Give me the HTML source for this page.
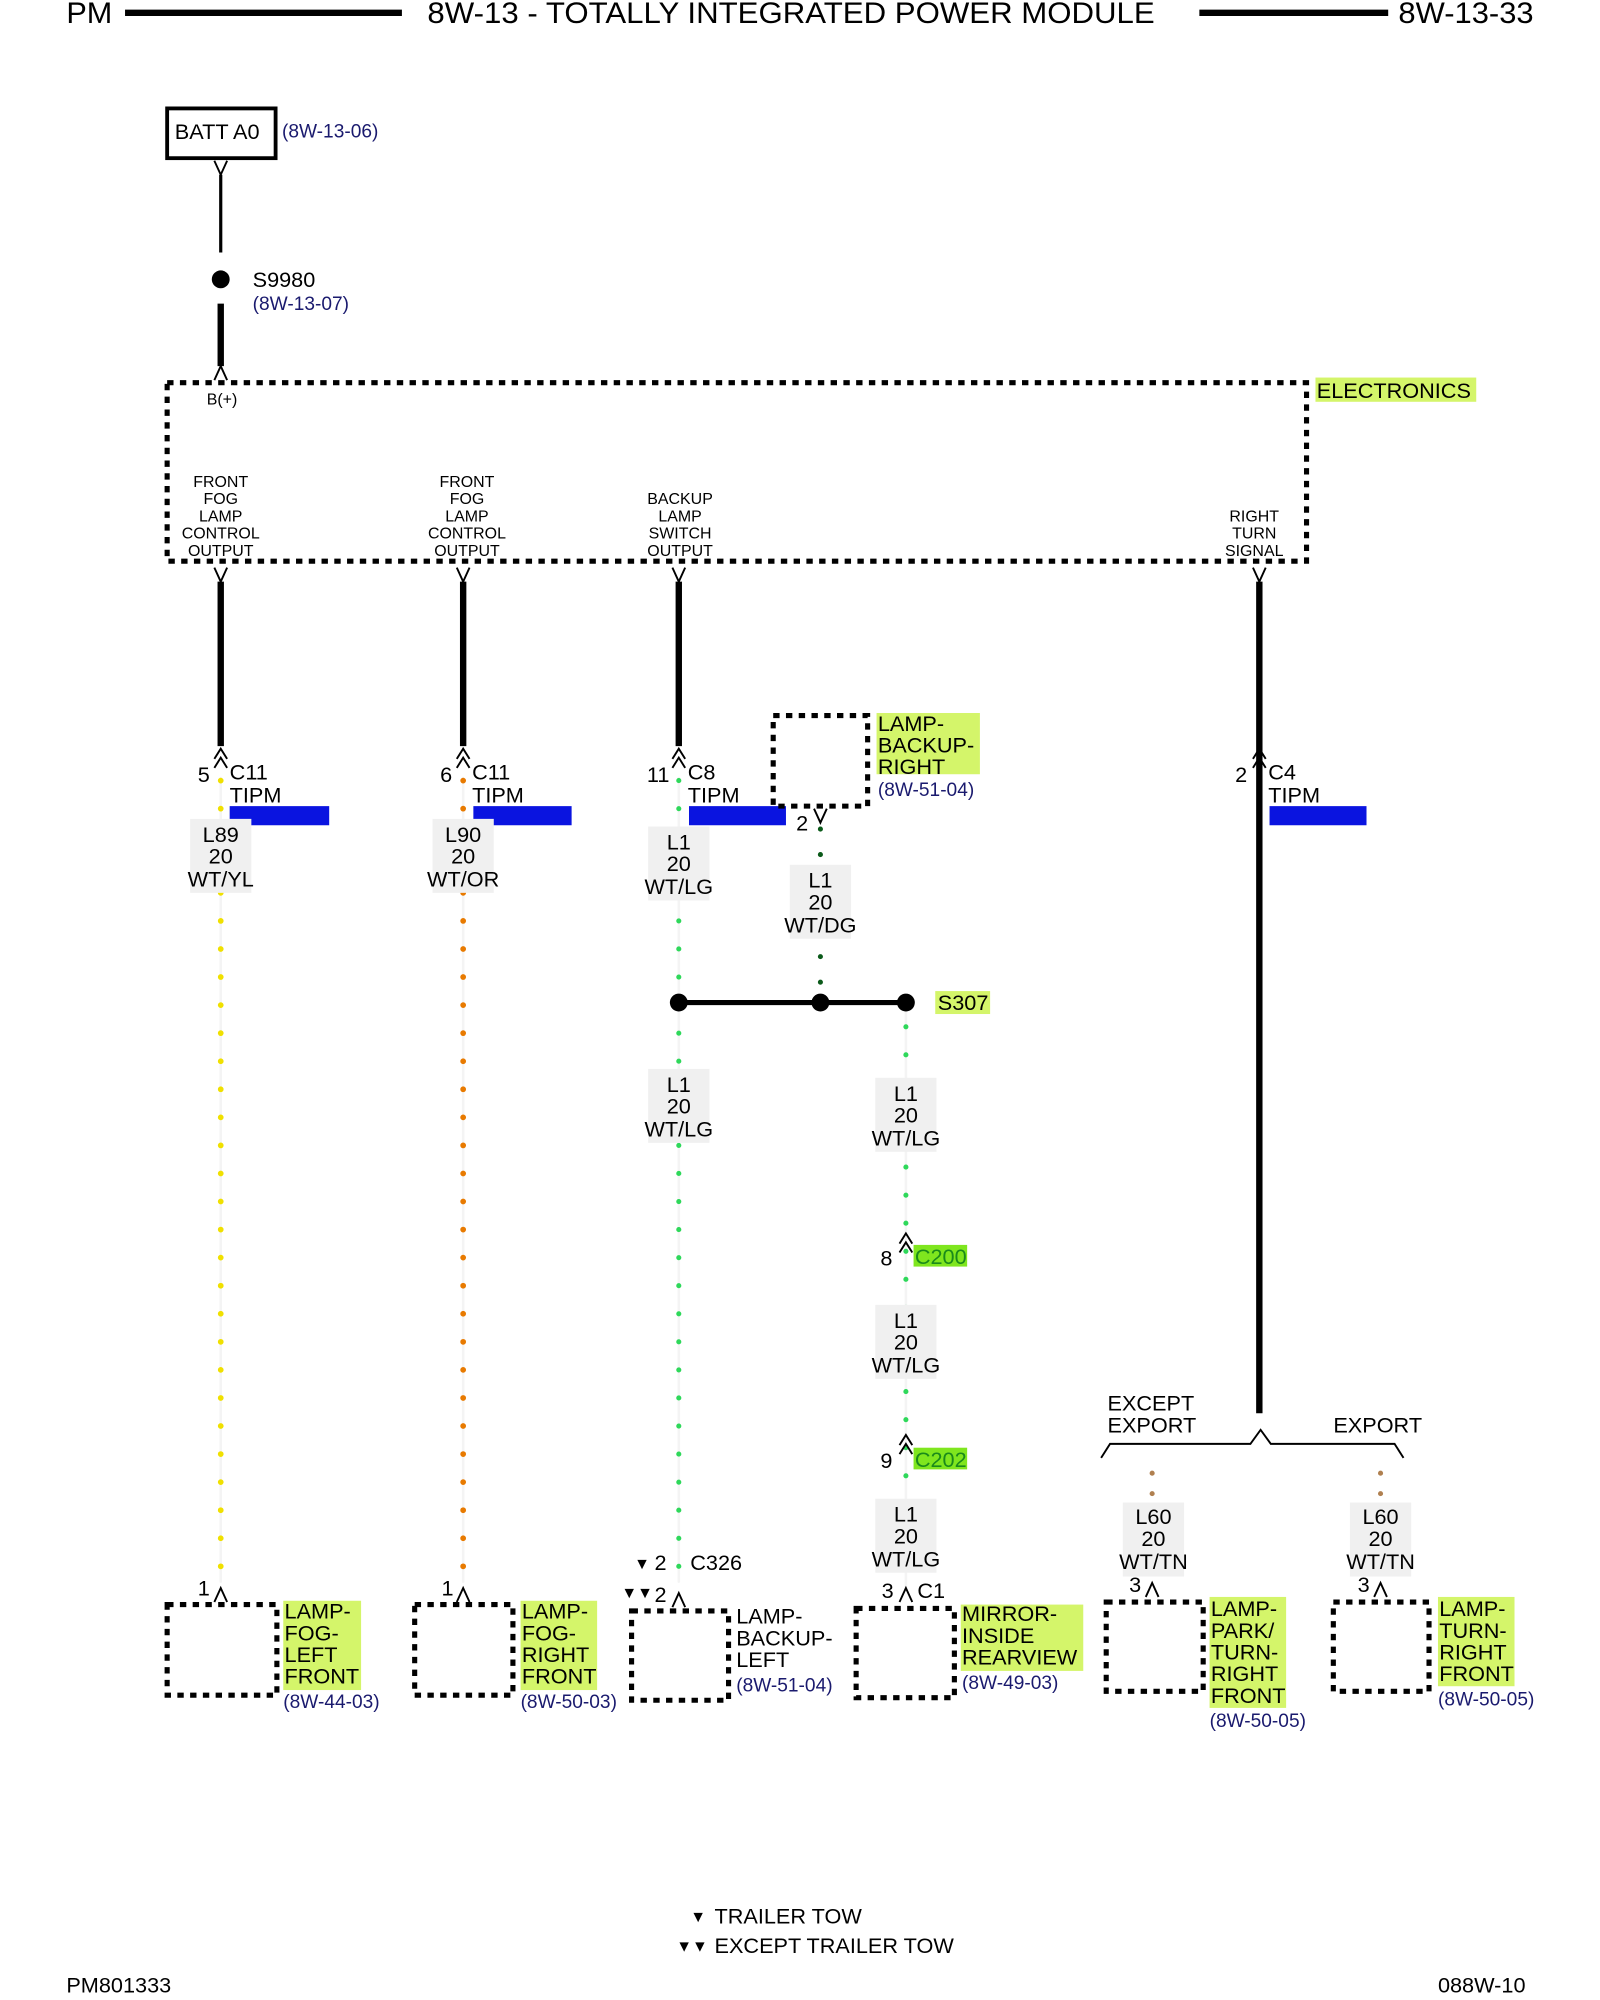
<!DOCTYPE html>
<html><head><meta charset="utf-8"><style>
html,body{margin:0;padding:0;background:#fff;}
svg{display:block;}
text{font-family:"Liberation Sans",sans-serif;fill:#000;}
.h{font-size:23px;}
.t{font-size:17px;letter-spacing:0;}
.s{font-size:12.5px;}
.r{font-size:15px;fill:#1a1a6e;letter-spacing:0;}
.box{fill:none;stroke:#000;stroke-width:4;stroke-dasharray:5 5;}
.thick{stroke:#000;stroke-width:5;}
.hl{fill:#d4f56a;}
.wl{fill:#f0f0f0;}
</style></head><body>
<svg width="1600" height="2000" viewBox="0 0 1254 1568" preserveAspectRatio="none" xmlns="http://www.w3.org/2000/svg">
<!-- header -->
<text x="52" y="18" class="h" textLength="36" lengthAdjust="spacingAndGlyphs">PM</text>
<line x1="98" y1="10" x2="315" y2="10" stroke="#000" stroke-width="5"/>
<text x="335" y="18" class="h" textLength="570" lengthAdjust="spacingAndGlyphs">8W-13 - TOTALLY INTEGRATED POWER MODULE</text>
<line x1="940" y1="10" x2="1088" y2="10" stroke="#000" stroke-width="5"/>
<text x="1096" y="18" class="h" textLength="106" lengthAdjust="spacingAndGlyphs">8W-13-33</text>

<!-- BATT A0 -->
<rect x="131" y="85" width="85" height="39" fill="none" stroke="#000" stroke-width="3"/>
<text x="137" y="109" class="t">BATT A0</text>
<text x="221" y="108" class="r">(8W-13-06)</text>
<polyline points="168,126 173,137 178,126" fill="none" stroke="#000" stroke-width="1.5"/>
<line x1="173" y1="137" x2="173" y2="198" stroke="#000" stroke-width="2.5"/>
<circle cx="173" cy="219" r="7" fill="#000"/>
<text x="198" y="225" class="t">S9980</text>
<text x="198" y="243" class="r">(8W-13-07)</text>
<line x1="173" y1="238" x2="173" y2="287" class="thick"/>
<polyline points="168,298 173,287 178,298" fill="none" stroke="#000" stroke-width="1.5"/>

<!-- Electronics box -->
<rect x="131" y="300" width="893" height="140" class="box"/>
<rect x="1031" y="296" width="126" height="19" class="hl"/>
<text x="1032" y="312" class="t">ELECTRONICS</text>
<text x="162" y="317" class="s">B(+)</text>
<g class="s" text-anchor="middle">
<text x="173" y="382">FRONT</text><text x="173" y="395">FOG</text><text x="173" y="409">LAMP</text><text x="173" y="422">CONTROL</text><text x="173" y="436">OUTPUT</text>
<text x="366" y="382">FRONT</text><text x="366" y="395">FOG</text><text x="366" y="409">LAMP</text><text x="366" y="422">CONTROL</text><text x="366" y="436">OUTPUT</text>
<text x="533" y="395">BACKUP</text><text x="533" y="409">LAMP</text><text x="533" y="422">SWITCH</text><text x="533" y="436">OUTPUT</text>
<text x="983" y="409">RIGHT</text><text x="983" y="422">TURN</text><text x="983" y="436">SIGNAL</text>
</g>

<!-- top wires -->
<g fill="none" stroke="#000" stroke-width="1.5">
<polyline points="168,445 173,456 178,445"/><polyline points="358,445 363,456 368,445"/>
<polyline points="527,445 532,456 537,445"/><polyline points="982,445 987,456 992,445"/>
</g>
<line x1="173" y1="456" x2="173" y2="585" class="thick"/>
<line x1="363" y1="456" x2="363" y2="585" class="thick"/>
<line x1="532" y1="456" x2="532" y2="585" class="thick"/>
<line x1="987" y1="456" x2="987" y2="1108" class="thick"/>

<!-- connector chevrons -->
<g fill="none" stroke="#000" stroke-width="1.5">
<polyline points="168,595 173,587 178,595"/><polyline points="168,602 173,594 178,602"/>
<polyline points="358,595 363,587 368,595"/><polyline points="358,602 363,594 368,602"/>
<polyline points="527,595 532,587 537,595"/><polyline points="527,602 532,594 537,602"/>
<polyline points="982,595 987,587 992,595"/><polyline points="982,602 987,594 992,602"/>
</g>
<text x="155" y="613" class="t">5</text><text x="180" y="611" class="t">C11</text><text x="180" y="629" class="t">TIPM</text>
<text x="345" y="613" class="t">6</text><text x="370" y="611" class="t">C11</text><text x="370" y="629" class="t">TIPM</text>
<text x="507" y="613" class="t">11</text><text x="539" y="611" class="t">C8</text><text x="539" y="629" class="t">TIPM</text>
<text x="968" y="613" class="t">2</text><text x="994" y="611" class="t">C4</text><text x="994" y="629" class="t">TIPM</text>
<rect x="180" y="632" width="78" height="15" fill="#0a14e0"/>
<rect x="371" y="632" width="77" height="15" fill="#0a14e0"/>
<rect x="540" y="632" width="76" height="15" fill="#0a14e0"/>
<rect x="995" y="632" width="76" height="15" fill="#0a14e0"/>

<!-- dotted colored wires -->
<g stroke-linecap="round">
<line x1="173" y1="610" x2="173" y2="1240" stroke="#f4f4f4" stroke-width="2"/>
<line x1="173" y1="612" x2="173" y2="1232" stroke="#f0e000" stroke-width="4.5" stroke-dasharray="0 22"/>
<line x1="363" y1="610" x2="363" y2="1240" stroke="#f4f4f4" stroke-width="2"/>
<line x1="363" y1="612" x2="363" y2="1232" stroke="#e87a00" stroke-width="4.5" stroke-dasharray="0 22"/>
<line x1="532" y1="610" x2="532" y2="1240" stroke="#f4f4f4" stroke-width="2"/>
<line x1="532" y1="612" x2="532" y2="1230" stroke="#2ed85a" stroke-width="4" stroke-dasharray="0 22"/>
<line x1="643" y1="650" x2="643" y2="780" stroke="#0b5a1a" stroke-width="4" stroke-dasharray="0 20"/>
<line x1="710" y1="790" x2="710" y2="1245" stroke="#f4f4f4" stroke-width="2"/>
<line x1="710" y1="805" x2="710" y2="1240" stroke="#2ed85a" stroke-width="4" stroke-dasharray="0 22"/>
<line x1="903" y1="1155" x2="903" y2="1172" stroke="#b08050" stroke-width="4" stroke-dasharray="0 16"/>
<line x1="1082" y1="1155" x2="1082" y2="1172" stroke="#b08050" stroke-width="4" stroke-dasharray="0 16"/>
</g>

<!-- wire labels -->
<g class="wl">
<rect x="149" y="642" width="48" height="58"/><rect x="339" y="642" width="48" height="58"/>
<rect x="508" y="648" width="48" height="58"/><rect x="619" y="678" width="48" height="58"/>
<rect x="508" y="838" width="48" height="58"/><rect x="686" y="845" width="48" height="58"/>
<rect x="686" y="1023" width="48" height="58"/><rect x="686" y="1175" width="48" height="58"/>
<rect x="880" y="1178" width="48" height="58"/><rect x="1058" y="1178" width="48" height="58"/>
</g>
<g class="t" text-anchor="middle">
<text x="173" y="660">L89</text><text x="173" y="677">20</text><text x="173" y="695">WT/YL</text>
<text x="363" y="660">L90</text><text x="363" y="677">20</text><text x="363" y="695">WT/OR</text>
<text x="532" y="666">L1</text><text x="532" y="683">20</text><text x="532" y="701">WT/LG</text>
<text x="643" y="696">L1</text><text x="643" y="713">20</text><text x="643" y="731">WT/DG</text>
<text x="532" y="856">L1</text><text x="532" y="873">20</text><text x="532" y="891">WT/LG</text>
<text x="710" y="863">L1</text><text x="710" y="880">20</text><text x="710" y="898">WT/LG</text>
<text x="710" y="1041">L1</text><text x="710" y="1058">20</text><text x="710" y="1076">WT/LG</text>
<text x="710" y="1193">L1</text><text x="710" y="1210">20</text><text x="710" y="1228">WT/LG</text>
<text x="904" y="1195">L60</text><text x="904" y="1212">20</text><text x="904" y="1230">WT/TN</text>
<text x="1082" y="1195">L60</text><text x="1082" y="1212">20</text><text x="1082" y="1230">WT/TN</text>
</g>

<!-- backup right -->
<rect x="606" y="561" width="74" height="71" class="box"/>
<rect x="687" y="559" width="81" height="48" class="hl"/>
<text x="688" y="573" class="t">LAMP-</text><text x="688" y="590" class="t">BACKUP-</text><text x="688" y="607" class="t">RIGHT</text>
<text x="688" y="624" class="r">(8W-51-04)</text>
<polyline points="638,634 643,645 648,634" fill="none" stroke="#000" stroke-width="1.5"/>
<text x="624" y="651" class="t">2</text>

<!-- S307 -->
<line x1="532" y1="786" x2="710" y2="786" stroke="#000" stroke-width="4"/>
<circle cx="532" cy="786" r="7" fill="#000"/><circle cx="643" cy="786" r="7" fill="#000"/><circle cx="710" cy="786" r="7" fill="#000"/>
<rect x="733" y="777" width="43" height="18" class="hl"/>
<text x="735" y="792" class="t">S307</text>

<!-- C200 C202 -->
<g fill="none" stroke="#000" stroke-width="1.5">
<polyline points="705,975 710,967 715,975"/><polyline points="705,982 710,974 715,982"/>
<polyline points="705,1133 710,1125 715,1133"/><polyline points="705,1140 710,1132 715,1140"/>
</g>
<text x="690" y="992" class="t">8</text>
<rect x="716" y="976" width="42" height="17" fill="#7fe61e"/>
<text x="717" y="991" class="t" style="fill:#1a8a1a">C200</text>
<text x="690" y="1151" class="t">9</text>
<rect x="716" y="1135" width="42" height="17" fill="#7fe61e"/>
<text x="717" y="1150" class="t" style="fill:#1a8a1a">C202</text>

<!-- brace -->
<polyline points="863,1143 870,1132 980,1132 988,1121 996,1132 1093,1132 1100,1143" fill="none" stroke="#000" stroke-width="1.5"/>
<text x="868" y="1106" class="t">EXCEPT</text><text x="868" y="1123" class="t">EXPORT</text>
<text x="1045" y="1123" class="t">EXPORT</text>

<!-- bottom pins -->
<g fill="none" stroke="#000" stroke-width="1.5">
<polyline points="168,1256 173,1245 178,1256"/><polyline points="358,1256 363,1245 368,1256"/>
<polyline points="527,1260 532,1249 537,1260"/><polyline points="705,1256 710,1245 715,1256"/>
<polyline points="898,1252 903,1241 908,1252"/><polyline points="1077,1252 1082,1241 1087,1252"/>
</g>
<text x="155" y="1251" class="t">1</text><text x="346" y="1251" class="t">1</text>
<text x="497" y="1230" class="s">▼</text><text x="513" y="1231" class="t">2</text><text x="541" y="1231" class="t">C326</text>
<text x="487" y="1253" class="s">▼▼</text><text x="513" y="1256" class="t">2</text>
<text x="691" y="1253" class="t">3</text><text x="719" y="1253" class="t">C1</text>
<text x="885" y="1248" class="t">3</text><text x="1064" y="1248" class="t">3</text>

<!-- bottom boxes -->
<rect x="131" y="1258" width="86" height="71" class="box"/>
<rect x="325" y="1258" width="77" height="71" class="box"/>
<rect x="495" y="1263" width="76" height="70" class="box"/>
<rect x="671" y="1261" width="77" height="70" class="box"/>
<rect x="867" y="1256" width="76" height="70" class="box"/>
<rect x="1045" y="1256" width="75" height="70" class="box"/>

<g class="hl">
<rect x="222" y="1255" width="61" height="70"/>
<rect x="408" y="1255" width="60" height="70"/>
<rect x="753" y="1258" width="96" height="52"/>
<rect x="948" y="1252" width="60" height="87"/>
<rect x="1127" y="1252" width="60" height="70"/>
</g>
<g class="t">
<text x="223" y="1269">LAMP-</text><text x="223" y="1286">FOG-</text><text x="223" y="1303">LEFT</text><text x="223" y="1320">FRONT</text>
<text x="409" y="1269">LAMP-</text><text x="409" y="1286">FOG-</text><text x="409" y="1303">RIGHT</text><text x="409" y="1320">FRONT</text>
<text x="577" y="1273">LAMP-</text><text x="577" y="1290">BACKUP-</text><text x="577" y="1307">LEFT</text>
<text x="754" y="1271">MIRROR-</text><text x="754" y="1288">INSIDE</text><text x="754" y="1305">REARVIEW</text>
<text x="949" y="1267">LAMP-</text><text x="949" y="1284">PARK/</text><text x="949" y="1301">TURN-</text><text x="949" y="1318">RIGHT</text><text x="949" y="1335">FRONT</text>
<text x="1128" y="1267">LAMP-</text><text x="1128" y="1284">TURN-</text><text x="1128" y="1301">RIGHT</text><text x="1128" y="1318">FRONT</text>
</g>
<text x="222" y="1339" class="r">(8W-44-03)</text>
<text x="408" y="1339" class="r">(8W-50-03)</text>
<text x="577" y="1326" class="r">(8W-51-04)</text>
<text x="754" y="1324" class="r">(8W-49-03)</text>
<text x="948" y="1354" class="r">(8W-50-05)</text>
<text x="1127" y="1337" class="r">(8W-50-05)</text>

<!-- legend -->
<text x="541" y="1507" class="s">▼</text><text x="560" y="1508" class="t">TRAILER TOW</text>
<text x="530" y="1530" class="s">▼▼</text><text x="560" y="1531" class="t">EXCEPT TRAILER TOW</text>
<text x="52" y="1562" class="t">PM801333</text>
<text x="1127" y="1562" class="t">088W-10</text>
</svg>
</body></html>
